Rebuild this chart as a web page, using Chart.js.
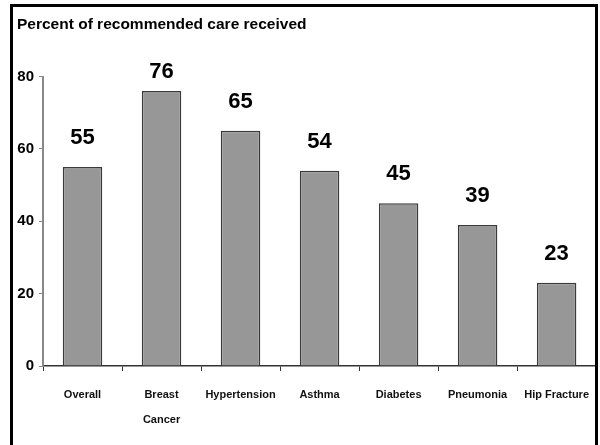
<!DOCTYPE html>
<html>
<head>
<meta charset="utf-8">
<script src="https://cdn.jsdelivr.net/npm/chart.js@4"></script>
<style>
  body { margin: 0; background: #fff; }
  #wrap { position: relative; width: 600px; height: 445px; }
  #frame {
    position: absolute; left: 10px; top: 4px; width: 582px; height: 460px;
    border: 3px solid #000; border-bottom: none; pointer-events: none;
  }
</style>
</head>
<body>
<div id="wrap">
  <canvas id="careChart" width="600" height="445"></canvas>
  <div id="frame"></div>
</div>
<script>
// data
const chartTitle = 'Percent of recommended care received';
const categories = ['Overall', ['Breast', 'Cancer'], 'Hypertension', 'Asthma', 'Diabetes', 'Pneumonia', 'Hip Fracture'];
const careValues = [55, 76, 65, 54, 45, 39, 23];
const yMin = 0;
const yMax = 80;
const yStep = 20;

const fontFam = "'Liberation Sans Narrow', 'Arial Narrow', 'Liberation Sans', Arial, sans-serif";

// draws the number above each bar
const valueLabels = {
    id: 'valueLabels',
    afterDatasetsDraw(chart) {
        const ctx = chart.ctx;
        const meta = chart.getDatasetMeta(0);
        ctx.save();
        ctx.font = 'bold 22px ' + fontFam;
        ctx.fillStyle = '#000';
        ctx.textAlign = 'center';
        ctx.textBaseline = 'middle';
        meta.data.forEach(function(bar, i) {
            const y = Math.max(bar.y - 29, chart.chartArea.top - 5);
            ctx.fillText(String(careValues[i]), bar.x, y);
        });
        ctx.restore();
    }
};

new Chart(document.getElementById('careChart'), {
    type: 'bar',
    data: {
        labels: categories,
        datasets: [{
            data: careValues,
            backgroundColor: '#979797',
            borderColor: '#3a3a3a',
            borderWidth: 1.5,
            barPercentage: 0.5,
            categoryPercentage: 1.0
        }]
    },
    options: {
        responsive: false,
        animation: false,
        layout: { padding: { left: 17, right: 0, top: 0, bottom: 0 } },
        plugins: {
            legend: { display: false },
            tooltip: { enabled: false },
            title: {
                display: true,
                text: chartTitle,
                align: 'start',
                color: '#000',
                font: { family: fontFam, size: 15.5, weight: 'bold' },
                padding: { top: 15, bottom: 43 }
            }
        },
        scales: {
            x: {
                grid: { display: true, offset: true, drawOnChartArea: false, tickLength: 5, color: '#333', lineWidth: 1 },
                border: { display: true, color: '#333', width: 1.5 },
                ticks: {
                    color: '#111',
                    padding: 11,
                    maxRotation: 0,
                    autoSkip: false,
                    font: { family: fontFam, size: 11, weight: 'bold', lineHeight: 2.3 }
                },
                afterFit(scale) { scale.height = 79; }
            },
            y: {
                min: yMin,
                max: yMax,
                grid: { display: true, drawOnChartArea: false, tickLength: 4, color: '#888' },
                border: { display: true, color: '#888', width: 2 },
                ticks: {
                    stepSize: yStep,
                    color: '#000',
                    padding: 5,
                    font: { family: "'Liberation Sans', Arial, sans-serif", size: 15, weight: 'bold' }
                },
                afterFit(scale) { scale.width = 26; }
            }
        }
    },
    plugins: [valueLabels]
});
</script>
</body>
</html>
